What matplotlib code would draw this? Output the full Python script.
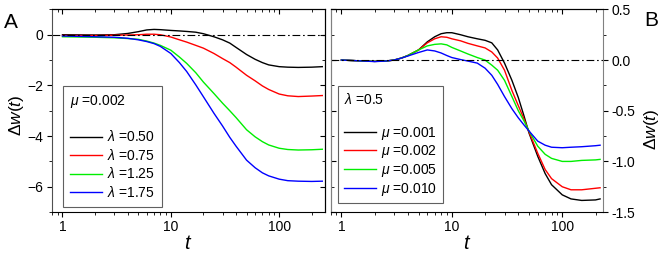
import matplotlib
matplotlib.use("Agg")
import matplotlib.pyplot as plt
from matplotlib.ticker import MultipleLocator, LogLocator, NullFormatter

plt.rcParams['font.family'] = ['Liberation Sans', 'DejaVu Sans']
plt.rcParams['mathtext.fontset'] = 'custom'
plt.rcParams['mathtext.rm'] = 'Liberation Sans'
plt.rcParams['mathtext.it'] = 'Liberation Sans:italic'
plt.rcParams['mathtext.bf'] = 'Liberation Sans:bold'

# panel A: mu = 0.002, different lambda
tA = [1, 2, 3, 4, 5, 6, 7, 8, 10, 12, 14, 17, 20, 25, 30, 35, 40, 50, 60, 70, 80, 100, 120, 150, 200, 250]
a_050 = [0.0, -0.01, 0.0, 0.05, 0.12, 0.19, 0.21, 0.20, 0.17, 0.15, 0.13, 0.10, 0.04, -0.08, -0.2, -0.33,
         -0.5, -0.78, -0.97, -1.1, -1.19, -1.26, -1.28, -1.29, -1.28, -1.26]
a_075 = [-0.03, -0.03, -0.02, -0.01, 0.0, 0.02, 0.02, 0.0, -0.09, -0.2, -0.29, -0.42, -0.53, -0.74, -0.94,
         -1.1, -1.28, -1.6, -1.82, -2.02, -2.16, -2.34, -2.41, -2.44, -2.42, -2.40]
a_125 = [-0.08, -0.1, -0.12, -0.15, -0.18, -0.25, -0.33, -0.42, -0.61, -0.88, -1.13, -1.5, -1.87, -2.32,
         -2.7, -3.0, -3.27, -3.75, -4.03, -4.22, -4.35, -4.48, -4.53, -4.55, -4.54, -4.52]
a_175 = [-0.05, -0.08, -0.1, -0.14, -0.2, -0.27, -0.35, -0.46, -0.74, -1.1, -1.45, -1.98, -2.45, -3.1,
         -3.6, -4.05, -4.4, -4.95, -5.25, -5.45, -5.57, -5.7, -5.76, -5.78, -5.79, -5.78]
labelsA = [r'$\lambda$ =0.50', r'$\lambda$ =0.75', r'$\lambda$ =1.25', r'$\lambda$ =1.75']

# panel B: lambda = 0.5, different mu
tB = [1, 1.5, 2, 2.5, 3, 3.5, 4, 5, 6, 7, 8, 9, 10, 12, 14, 17, 20, 23, 26, 30, 35, 40, 45, 50, 60,
      70, 80, 100, 120, 150, 200, 220]
b_001 = [0, -0.008, -0.013, -0.01, 0.0, 0.02, 0.045, 0.1, 0.18, 0.23, 0.26, 0.27, 0.27, 0.25, 0.23, 0.21,
         0.195, 0.17, 0.10, -0.03, -0.2, -0.37, -0.55, -0.72, -0.95, -1.12, -1.23, -1.33, -1.37, -1.385,
         -1.38, -1.37]
b_002 = [0, -0.008, -0.013, -0.01, 0.0, 0.02, 0.045, 0.1, 0.17, 0.21, 0.23, 0.225, 0.21, 0.19, 0.165, 0.14,
         0.12, 0.08, 0.02, -0.1, -0.3, -0.45, -0.58, -0.71, -0.92, -1.08, -1.17, -1.25, -1.28, -1.28,
         -1.265, -1.26]
b_005 = [0, -0.008, -0.013, -0.01, 0.0, 0.02, 0.045, 0.1, 0.14, 0.155, 0.16, 0.15, 0.125, 0.09, 0.06, 0.025,
         0.0, -0.05, -0.1, -0.2, -0.36, -0.5, -0.6, -0.7, -0.85, -0.93, -0.97, -1.0, -1.0, -0.99,
         -0.985, -0.98]
b_010 = [0, -0.008, -0.015, -0.01, 0.0, 0.02, 0.04, 0.075, 0.10, 0.09, 0.07, 0.045, 0.025, 0.005, -0.01,
         -0.03, -0.08, -0.15, -0.24, -0.36, -0.48, -0.57, -0.64, -0.7, -0.8, -0.84, -0.86, -0.865, -0.86,
         -0.855, -0.845, -0.84]
labelsB = [r'$\mu$ =0.001', r'$\mu$ =0.002', r'$\mu$ =0.005', r'$\mu$ =0.010']

colors = ['black', '#ff0000', '#00ee00', '#0000ff']
fs = 10

fig = plt.figure(figsize=(6.64, 2.54), dpi=100)
axA = fig.add_axes([0.0783, 0.165, 0.4112, 0.798])
axB = fig.add_axes([0.498, 0.165, 0.4105, 0.798])


def style(ax, side):
    ax.set_xscale('log')
    ax.xaxis.set_minor_locator(LogLocator(subs=range(2, 10)))
    ax.xaxis.set_minor_formatter(NullFormatter())
    ax.set_xticks([1, 10, 100])
    ax.set_xticklabels(['1', '10', '100'])
    ax.tick_params(which='major', length=3.5, width=0.8, labelsize=fs, direction='out', pad=2.5)
    ax.tick_params(which='minor', length=2, width=0.6, direction='out')
    ax.axhline(0, color='black', lw=0.8, ls=(0, (7, 2.5, 1.5, 2.5)))
    # mirrored ticks pointing in
    top = ax.secondary_xaxis('top')
    top.xaxis.set_minor_locator(LogLocator(subs=range(2, 10)))
    top.xaxis.set_minor_formatter(NullFormatter())
    top.set_xticks([1, 10, 100])
    top.tick_params(which='both', direction='in', labeltop=False)
    top.tick_params(which='major', length=3.5, width=0.8)
    top.tick_params(which='minor', length=2, width=0.6)
    other = ax.secondary_yaxis(side)
    other.yaxis.set_major_locator(ax.yaxis.get_major_locator())
    other.yaxis.set_minor_locator(ax.yaxis.get_minor_locator())
    other.tick_params(which='both', direction='in', labelleft=False, labelright=False)
    other.tick_params(which='major', length=3.5, width=0.8)
    other.tick_params(which='minor', length=2, width=0.6)
    ax.set_xlabel(r'$t$', fontsize=14.5, labelpad=0)
    return other


for y, c, lab in zip([a_050, a_075, a_125, a_175], colors, labelsA):
    axA.plot(tA, y, color=c, lw=1.0, label=lab)
axA.set_xlim(0.8, 265)
axA.set_ylim(-7, 1)
axA.yaxis.set_major_locator(MultipleLocator(2))
axA.yaxis.set_minor_locator(MultipleLocator(1))
oA = style(axA, 'right')
axA.set_ylabel(r'$\Delta w(t)$', fontsize=12.5)
axA.yaxis.set_label_coords(-0.097, 0.48)
axA.spines['left'].set_color('#505050')

for y, c, lab in zip([b_001, b_002, b_005, b_010], colors, labelsB):
    axB.plot(tB, y, color=c, lw=1.0, label=lab)
axB.set_xlim(0.8, 235)
axB.set_ylim(-1.5, 0.5)
axB.yaxis.set_major_locator(MultipleLocator(0.5))
axB.yaxis.set_minor_locator(MultipleLocator(0.25))
axB.yaxis.tick_right()
axB.yaxis.set_label_position('right')
axB.set_yticks([0.5, 0.0, -0.5, -1.0, -1.5])
axB.set_yticklabels(['0.5', '0.0', '-0.5', '-1.0', '-1.5'])
oB = style(axB, 'left')
axB.set_ylabel(r'$\Delta w(t)$', fontsize=12.5)
axB.yaxis.set_label_coords(1.142, 0.41)
axB.spines['right'].set_color('#808080')
axB.spines['left'].set_color('#808080')
oB.spines['left'].set_color('#808080')

legA = axA.legend(title=r'$\mu$ =0.002' + '\n', loc='lower left', bbox_to_anchor=(0.04, 0.026),
                  borderaxespad=0, fontsize=fs, title_fontsize=fs, alignment='left',
                  fancybox=False, edgecolor='#606060', framealpha=1, handlelength=2.3,
                  handletextpad=0.4, labelspacing=0.25, borderpad=0.5)
legA.get_frame().set_linewidth(0.8)
legB = axB.legend(title=r'$\lambda$ =0.5' + '\n', loc='lower left', bbox_to_anchor=(0.027, 0.044),
                  borderaxespad=0, fontsize=fs, title_fontsize=fs, alignment='left',
                  fancybox=False, edgecolor='#606060', framealpha=1, handlelength=2.3,
                  handletextpad=0.4, labelspacing=0.12, borderpad=0.4)
legB.get_frame().set_linewidth(0.8)

fig.text(0.006, 0.913, 'A', fontsize=15, va='center')
fig.text(0.970, 0.918, 'B', fontsize=15, va='center')

fig.savefig('out.png', dpi=100)
